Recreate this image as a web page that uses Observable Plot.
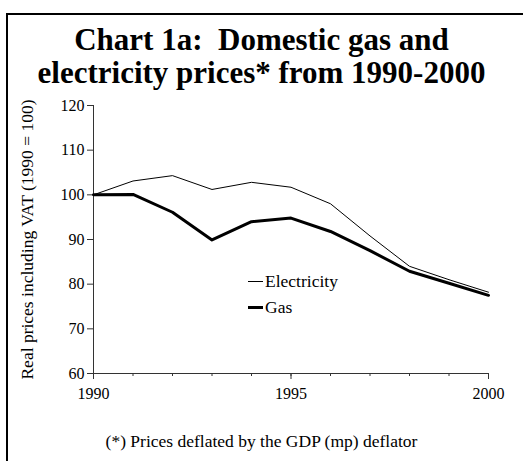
<!DOCTYPE html>
<html>
<head>
<meta charset="utf-8">
<script src="https://cdn.jsdelivr.net/npm/d3@7"></script>
<script src="https://cdn.jsdelivr.net/npm/@observablehq/plot@0.6"></script>
<style>
  html, body { margin: 0; padding: 0; background: #fff; }
  body { width: 523px; height: 461px; position: relative; overflow: hidden; font-family: "Liberation Serif", "Times New Roman", serif; color: #000; }
  #frame { position: absolute; left: 6px; top: 13px; width: 540px; height: 480px; border-left: 2px solid #000; border-top: 2px solid #000; box-sizing: border-box; }
  #title { position: absolute; left: 0; top: 23px; width: 523px; text-align: center; font-weight: bold; font-size: 31px; line-height: 33px; }
  #chart { position: absolute; left: 0; top: 95px; }
  #chart svg text { font-family: "Liberation Serif", "Times New Roman", serif; }
  #caption { position: absolute; left: 0; top: 431px; width: 523px; text-align: center; font-size: 17.5px; line-height: 20px; }
  #legend { position: absolute; left: 248px; top: 268px; font-size: 17.5px; line-height: 26px; }
  #legend .item { display: flex; align-items: center; }
  #legend .sw { display: inline-block; width: 15px; background: #000; margin-right: 2px; }
</style>
</head>
<body>
<div id="frame"></div>
<div id="title">Chart 1a:&nbsp; Domestic gas and<br>electricity prices* from 1990-2000</div>
<div id="chart"></div>
<div id="legend"></div>
<div id="caption">(*) Prices deflated by the GDP (mp) deflator</div>
<script>
const years = [1990, 1991, 1992, 1993, 1994, 1995, 1996, 1997, 1998, 1999, 2000];
const electricity = [100, 103.1, 104.3, 101.2, 102.8, 101.7, 98.0, 90.8, 84.0, 81.0, 78.2];
const gas = [100, 100.1, 96.1, 89.9, 94.0, 94.8, 91.8, 87.5, 82.9, 80.2, 77.5];
const seriesNames = ["Electricity", "Gas"];
const seriesWidths = [1, 3];
const yTicks = [60, 70, 80, 90, 100, 110, 120];
const xLabelTicks = [1990, 1995, 2000];
const yLabel = "Real prices including VAT (1990 = 100)";

const rows = [];
years.forEach((yr, i) => {
  rows.push({year: yr, value: electricity[i], series: seriesNames[0]});
  rows.push({year: yr, value: gas[i], series: seriesNames[1]});
});

const chart = Plot.plot({
  width: 523,
  height: 315,
  marginTop: 10,
  marginBottom: 37,
  marginLeft: 93,
  marginRight: 35,
  style: { fontFamily: "'Liberation Serif', 'Times New Roman', serif", fontSize: "16px", background: "transparent", color: "#000" },
  x: { domain: [years[0], years[years.length - 1]] },
  y: { domain: [yTicks[0], yTicks[yTicks.length - 1]] },
  marks: [
    Plot.ruleX([years[0]], { stroke: "#333", strokeWidth: 1 }),
    Plot.ruleY([yTicks[0]], { stroke: "#333", strokeWidth: 1 }),
    Plot.axisY({ ticks: yTicks, tickSize: 6, tickPadding: 3, tickFormat: d => String(d), label: null, stroke: "#333" }),
    Plot.axisY({ ticks: [], label: yLabel, labelAnchor: "center", labelArrow: "none", labelOffset: 73, fontSize: 17.5 }),
    Plot.axisX({ ticks: years, tickSize: 3, tickFormat: () => "", label: null, stroke: "#333" }),
    Plot.axisX({ ticks: xLabelTicks, tickSize: 6, tickPadding: 8, tickFormat: d => String(d), label: null, stroke: "#333" }),
    Plot.line(rows.filter(d => d.series === seriesNames[0]), { x: "year", y: "value", stroke: "#000", strokeWidth: seriesWidths[0] }),
    Plot.line(rows.filter(d => d.series === seriesNames[1]), { x: "year", y: "value", stroke: "#000", strokeWidth: seriesWidths[1] })
  ]
});
document.getElementById("chart").appendChild(chart);

const legend = document.getElementById("legend");
seriesNames.forEach((name, i) => {
  const item = document.createElement("div");
  item.className = "item";
  const sw = document.createElement("span");
  sw.className = "sw";
  sw.style.height = seriesWidths[i] + "px";
  item.appendChild(sw);
  item.appendChild(document.createTextNode(name));
  legend.appendChild(item);
});
</script>
</body>
</html>
